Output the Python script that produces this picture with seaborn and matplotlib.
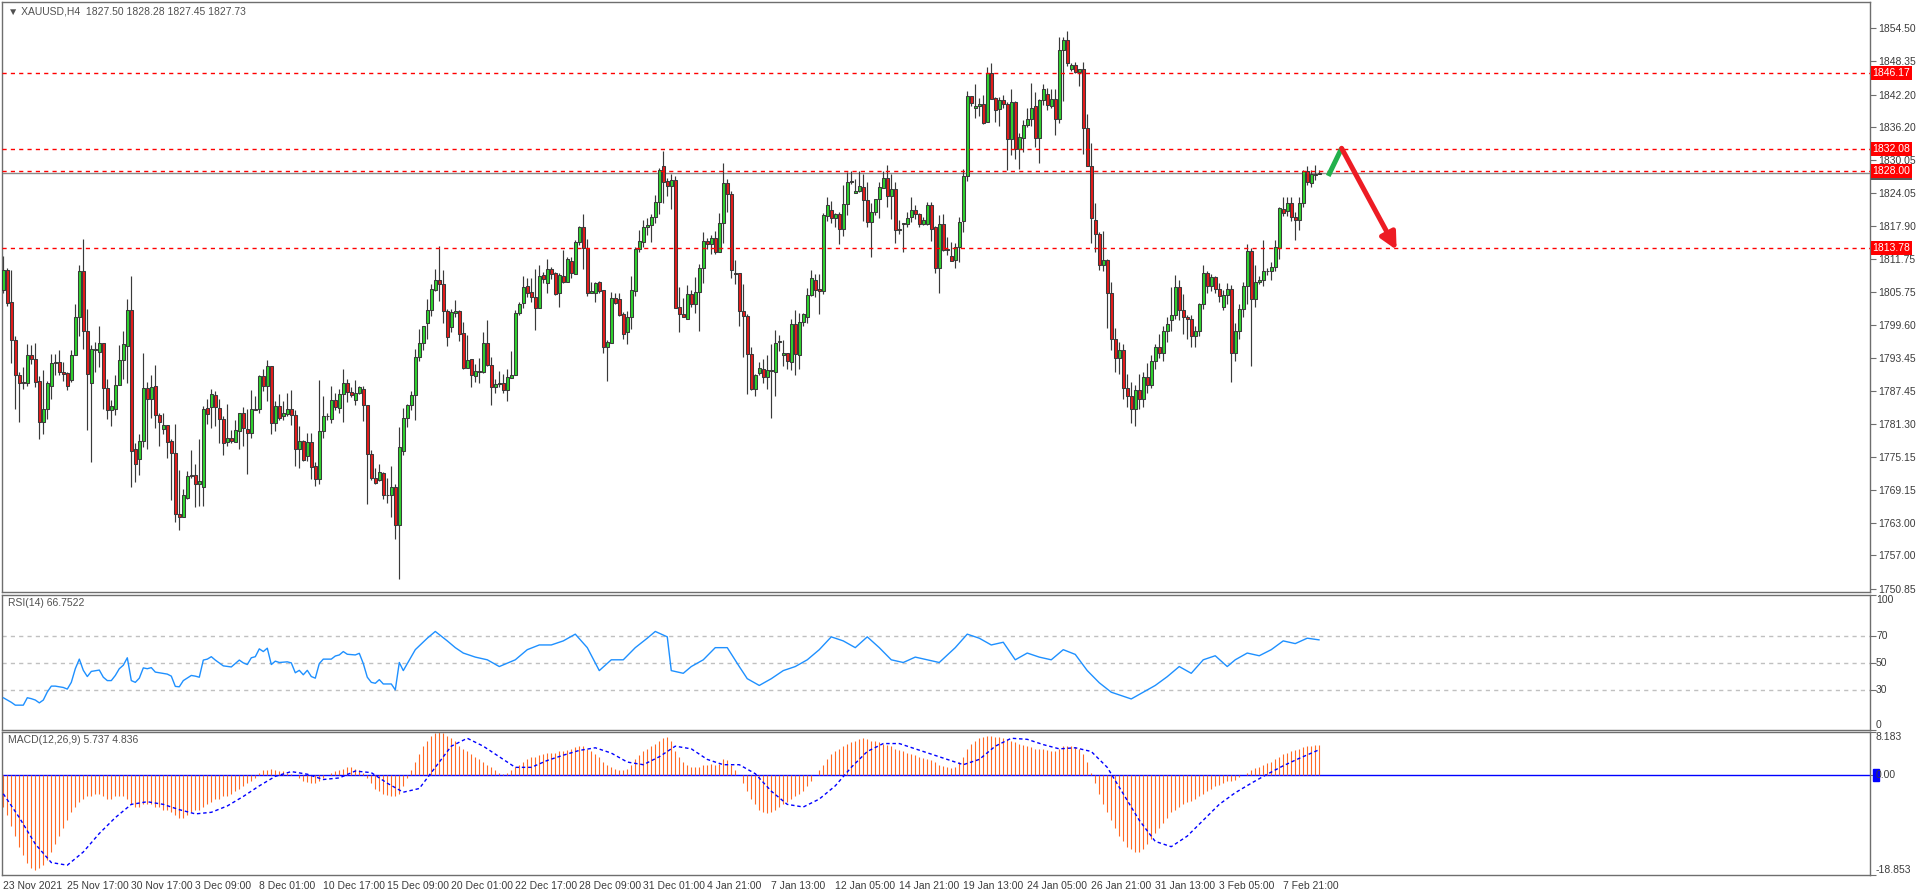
import numpy as np
import matplotlib
matplotlib.use("Agg")
import matplotlib.pyplot as plt
import seaborn as sns
from matplotlib.transforms import blended_transform_factory
from matplotlib.patches import Rectangle

sns.set_style("white")
plt.rcParams['font.family'] = ['Liberation Sans', 'DejaVu Sans']

# ---------------- data (XAUUSD H4) ----------------
opens = [
    1806.1, 1809.8, 1803.8, 1796.8, 1790.3, 1789.0, 1788.9, 1794.0, 1793.3, 1789.2,
    1781.6, 1784.0, 1788.3, 1792.5, 1792.7, 1791.0, 1790.7, 1789.4, 1794.0, 1801.0,
    1809.6, 1798.4, 1788.9, 1794.9, 1794.7, 1796.2, 1787.9, 1783.8, 1784.0, 1788.6,
    1793.1, 1795.8, 1802.3, 1776.6, 1774.9, 1778.1, 1787.9, 1786.0, 1788.3, 1782.9,
    1780.3, 1781.1, 1778.1, 1775.9, 1764.7, 1764.2, 1767.6, 1771.8, 1771.8, 1770.3,
    1769.6, 1784.2, 1784.4, 1786.6, 1784.2, 1782.2, 1777.9, 1778.7, 1777.9, 1780.0,
    1783.3, 1780.3, 1779.6, 1784.0, 1784.0, 1790.2, 1788.4, 1792.0, 1781.4, 1784.6,
    1782.7, 1783.2, 1784.0, 1782.9, 1776.6, 1778.1, 1775.3, 1777.9, 1773.5, 1771.1,
    1780.0, 1782.7, 1782.2, 1785.7, 1784.2, 1786.8, 1788.8, 1787.3, 1785.7, 1787.0,
    1787.8, 1784.8, 1775.7, 1771.3, 1771.0, 1772.2, 1768.2, 1768.1, 1769.7, 1762.6,
    1776.4, 1782.4, 1784.8, 1786.6, 1793.7, 1796.2, 1799.9, 1802.3, 1806.0, 1807.9,
    1807.1, 1802.1, 1799.3, 1801.9, 1802.2, 1798.1, 1791.6, 1793.3, 1790.1, 1791.1,
    1790.9, 1796.2, 1792.2, 1788.2, 1788.7, 1788.8, 1787.5, 1789.8, 1790.3, 1801.8,
    1803.7, 1806.8, 1805.7, 1804.7, 1802.8, 1808.9, 1807.4, 1809.9, 1809.2, 1805.5,
    1808.7, 1807.6, 1811.4, 1809.1, 1814.9, 1817.8, 1813.8, 1805.6, 1805.6, 1807.5,
    1806.1, 1795.6, 1796.2, 1804.5, 1804.4, 1801.6, 1798.3, 1801.0, 1805.8, 1813.6,
    1815.0, 1817.8, 1818.0, 1819.5, 1822.3, 1828.9, 1826.2, 1825.2, 1826.4, 1802.9,
    1801.6, 1800.8, 1805.3, 1803.4, 1805.7, 1810.1, 1815.1, 1814.5, 1815.7, 1813.0,
    1818.4, 1825.8, 1823.8, 1809.2, 1809.2, 1802.1, 1801.3, 1794.2, 1787.7, 1790.7,
    1791.4, 1789.9, 1791.3, 1790.9, 1796.4, 1794.0, 1794.4, 1792.8, 1799.7, 1794.0,
    1800.1, 1801.0, 1805.1, 1808.0, 1806.3, 1805.8, 1819.8, 1820.8, 1819.3, 1820.1,
    1817.3, 1821.9, 1826.0, 1824.0, 1824.3, 1825.1, 1822.7, 1818.6, 1820.4, 1822.8,
    1825.0, 1826.7, 1823.5, 1824.7, 1817.1, 1818.3, 1818.2, 1819.5, 1820.8, 1820.1,
    1818.2, 1818.3, 1821.7, 1817.7, 1810.1, 1818.2, 1813.6, 1812.4, 1811.6, 1814.1,
    1818.8, 1827.1, 1841.9, 1839.7, 1840.0, 1840.4, 1837.2, 1846.2, 1841.5, 1839.5,
    1841.2, 1840.4, 1833.9, 1840.8, 1832.1, 1834.1, 1836.5, 1837.6, 1840.0, 1834.1,
    1841.1, 1842.3, 1840.1, 1841.3, 1837.6, 1850.4, 1852.3, 1847.0, 1847.6, 1846.4,
    1846.9, 1836.1, 1829.0, 1819.0, 1816.4, 1810.6, 1811.6, 1805.6, 1797.0, 1793.5,
    1795.0, 1788.0, 1786.5, 1784.0, 1787.5, 1786.0, 1790.0, 1788.5, 1793.0, 1795.5,
    1794.5, 1798.5, 1800.5, 1801.5, 1806.6, 1802.3, 1801.1, 1800.8, 1797.5, 1798.5,
    1803.5, 1809.2, 1806.8, 1808.4, 1806.3, 1803.0, 1805.2, 1806.3, 1794.5, 1798.5,
    1802.5, 1806.9, 1813.3, 1804.4, 1807.6, 1808.0, 1809.5, 1809.5, 1810.3, 1813.9,
    1821.0, 1820.7, 1822.1, 1819.6, 1819.0, 1822.1, 1828.1, 1825.8, 1827.4, 1827.50,
]
highs = [
    1812.4, 1810.1, 1809.8, 1797.6, 1791.0, 1791.8, 1796.1, 1795.9, 1796.2, 1790.2,
    1791.3, 1789.3, 1794.2, 1794.2, 1794.9, 1792.8, 1790.9, 1794.9, 1803.5, 1810.7,
    1815.5, 1802.6, 1795.9, 1796.5, 1799.4, 1796.3, 1789.6, 1785.8, 1790.3, 1795.9,
    1798.5, 1804.4, 1808.7, 1777.7, 1779.4, 1794.4, 1789.1, 1790.3, 1792.2, 1783.3,
    1783.3, 1781.1, 1778.5, 1781.3, 1772.8, 1769.3, 1772.6, 1776.5, 1773.9, 1778.5,
    1784.6, 1786.0, 1787.8, 1787.4, 1786.0, 1782.8, 1785.0, 1780.2, 1782.0, 1783.3,
    1784.5, 1784.0, 1787.6, 1786.5, 1790.4, 1791.5, 1793.1, 1792.0, 1785.6, 1786.9,
    1785.6, 1787.0, 1787.6, 1783.8, 1780.9, 1778.4, 1779.6, 1779.6, 1774.3, 1789.4,
    1786.5, 1783.3, 1788.3, 1787.0, 1787.8, 1791.5, 1789.7, 1788.1, 1789.4, 1788.3,
    1788.3, 1784.8, 1776.5, 1773.1, 1773.9, 1772.4, 1771.4, 1773.5, 1770.2, 1780.8,
    1784.3, 1785.0, 1787.4, 1795.2, 1798.9, 1799.4, 1804.4, 1807.2, 1809.9, 1814.2,
    1809.8, 1802.5, 1802.6, 1804.2, 1802.4, 1800.2, 1797.8, 1793.3, 1792.4, 1793.5,
    1798.3, 1800.5, 1793.6, 1789.6, 1791.1, 1790.6, 1791.4, 1794.8, 1802.4, 1803.9,
    1808.6, 1808.2, 1808.2, 1809.9, 1810.6, 1809.4, 1811.8, 1810.3, 1809.4, 1809.2,
    1813.5, 1812.2, 1812.2, 1815.3, 1817.9, 1820.1, 1815.5, 1807.6, 1807.5, 1807.7,
    1806.1, 1796.8, 1805.7, 1805.6, 1805.6, 1802.0, 1802.2, 1808.7, 1814.1, 1817.2,
    1819.0, 1819.3, 1820.1, 1823.6, 1828.6, 1831.8, 1826.7, 1827.5, 1827.2, 1806.7,
    1804.5, 1807.0, 1806.1, 1808.5, 1810.9, 1816.8, 1815.6, 1816.2, 1816.9, 1820.3,
    1829.6, 1826.5, 1824.3, 1811.6, 1809.2, 1807.2, 1801.6, 1795.5, 1790.6, 1792.7,
    1793.3, 1794.1, 1796.1, 1798.6, 1797.8, 1796.8, 1794.5, 1800.7, 1802.3, 1801.8,
    1801.9, 1806.5, 1809.8, 1809.0, 1809.1, 1820.3, 1823.2, 1822.5, 1820.3, 1820.5,
    1825.5, 1827.9, 1828.0, 1826.5, 1828.1, 1827.6, 1826.0, 1822.2, 1822.9, 1826.0,
    1828.1, 1829.2, 1827.6, 1826.0, 1819.0, 1818.4, 1820.4, 1823.2, 1821.8, 1820.3,
    1819.5, 1822.4, 1822.4, 1817.9, 1819.9, 1820.1, 1815.8, 1815.0, 1814.8, 1819.6,
    1828.5, 1842.9, 1842.0, 1844.2, 1841.5, 1842.1, 1847.2, 1848.0, 1841.8, 1841.7,
    1842.1, 1840.8, 1843.2, 1841.0, 1835.0, 1837.5, 1839.7, 1844.4, 1842.7, 1841.4,
    1844.2, 1843.4, 1843.2, 1843.2, 1852.8, 1852.8, 1853.9, 1848.0, 1848.2, 1846.9,
    1848.2, 1838.6, 1833.3, 1822.2, 1816.8, 1817.0, 1811.8, 1807.6, 1799.0, 1796.5,
    1796.0, 1790.5, 1789.0, 1788.5, 1790.5, 1791.0, 1792.5, 1794.0, 1796.0, 1798.0,
    1799.5, 1801.0, 1806.7, 1808.9, 1807.9, 1805.3, 1801.5, 1801.5, 1799.5, 1803.6,
    1810.7, 1809.5, 1809.0, 1808.6, 1807.3, 1806.1, 1807.3, 1807.0, 1800.0, 1803.5,
    1807.5, 1814.6, 1813.8, 1810.7, 1808.7, 1815.3, 1810.2, 1811.3, 1815.3, 1821.4,
    1823.3, 1823.3, 1823.3, 1820.5, 1823.3, 1828.3, 1828.9, 1828.2, 1829.2, 1828.28,
]
lows = [
    1805.5, 1803.2, 1792.6, 1784.1, 1781.7, 1787.7, 1788.4, 1792.3, 1788.2, 1778.5,
    1779.4, 1782.3, 1785.9, 1790.4, 1790.3, 1789.3, 1787.6, 1789.1, 1794.0, 1797.6,
    1795.2, 1780.2, 1774.2, 1791.0, 1791.8, 1784.1, 1782.3, 1781.0, 1782.9, 1788.6,
    1789.7, 1788.9, 1769.7, 1770.6, 1771.9, 1777.1, 1776.6, 1782.5, 1780.6, 1777.2,
    1779.4, 1775.1, 1767.3, 1763.2, 1761.7, 1764.2, 1767.4, 1771.4, 1766.0, 1766.2,
    1766.2, 1781.3, 1780.5, 1780.9, 1777.7, 1775.6, 1777.3, 1777.7, 1777.9, 1776.7,
    1777.2, 1772.1, 1778.8, 1783.8, 1783.4, 1787.4, 1785.6, 1779.5, 1780.1, 1782.0,
    1782.0, 1782.8, 1781.2, 1773.5, 1773.1, 1774.5, 1774.5, 1771.2, 1769.9, 1770.3,
    1778.8, 1782.0, 1781.4, 1783.9, 1783.3, 1781.7, 1785.3, 1786.2, 1784.8, 1786.9,
    1781.9, 1766.5, 1771.0, 1770.2, 1770.8, 1767.4, 1766.7, 1764.2, 1760.1, 1752.7,
    1775.5, 1780.8, 1783.9, 1782.0, 1793.0, 1794.9, 1797.1, 1801.3, 1805.8, 1804.1,
    1799.9, 1795.7, 1798.3, 1801.0, 1796.7, 1791.5, 1791.6, 1788.2, 1789.1, 1788.8,
    1790.8, 1792.0, 1784.9, 1787.1, 1788.2, 1787.0, 1785.6, 1789.8, 1790.3, 1801.5,
    1802.8, 1804.7, 1803.9, 1798.7, 1802.8, 1807.3, 1805.6, 1808.1, 1805.1, 1802.9,
    1807.3, 1807.6, 1808.3, 1809.0, 1814.4, 1810.0, 1805.0, 1805.5, 1803.9, 1805.6,
    1794.4, 1789.3, 1796.2, 1803.4, 1801.3, 1797.0, 1796.0, 1798.8, 1804.9, 1813.0,
    1814.1, 1816.2, 1815.0, 1818.5, 1820.1, 1822.2, 1823.5, 1821.0, 1802.7, 1798.3,
    1801.0, 1800.7, 1803.0, 1801.9, 1798.4, 1807.4, 1813.6, 1812.7, 1812.7, 1813.0,
    1814.8, 1820.4, 1808.2, 1807.1, 1799.5, 1793.6, 1786.8, 1787.5, 1786.5, 1790.3,
    1788.8, 1787.7, 1782.5, 1786.4, 1794.8, 1792.1, 1791.4, 1791.2, 1790.3, 1791.4,
    1799.5, 1799.9, 1804.9, 1804.7, 1801.7, 1805.3, 1818.9, 1818.5, 1817.7, 1814.6,
    1816.1, 1819.9, 1825.6, 1824.0, 1824.2, 1818.9, 1817.8, 1812.2, 1820.0, 1819.3,
    1824.9, 1821.5, 1819.1, 1814.7, 1816.4, 1813.1, 1817.8, 1818.7, 1819.1, 1817.7,
    1818.0, 1818.1, 1815.2, 1809.2, 1805.6, 1813.3, 1812.6, 1811.5, 1810.2, 1811.2,
    1816.7, 1826.3, 1840.0, 1837.9, 1838.3, 1836.7, 1837.2, 1841.4, 1837.2, 1836.3,
    1839.8, 1828.3, 1831.0, 1830.2, 1828.5, 1831.5, 1836.2, 1836.3, 1832.5, 1829.6,
    1840.2, 1839.4, 1839.8, 1834.8, 1837.0, 1841.0, 1847.4, 1846.6, 1846.1, 1843.7,
    1831.2, 1828.9, 1814.8, 1813.0, 1809.8, 1809.5, 1799.0, 1795.0, 1791.0, 1790.5,
    1786.0, 1784.5, 1781.5, 1781.0, 1784.0, 1784.5, 1787.0, 1788.0, 1791.5, 1793.5,
    1793.0, 1796.5, 1798.5, 1800.8, 1800.5, 1798.0, 1797.0, 1795.5, 1795.5, 1797.5,
    1802.5, 1805.5, 1805.8, 1805.5, 1803.8, 1802.3, 1803.5, 1789.0, 1793.0, 1797.0,
    1801.0, 1803.5, 1792.0, 1803.0, 1807.2, 1806.8, 1808.8, 1808.0, 1809.5, 1811.8,
    1819.8, 1819.7, 1818.8, 1815.4, 1817.2, 1821.5, 1825.5, 1825.1, 1826.4, 1827.45,
]
closes = [
    1809.8, 1803.7, 1796.8, 1790.3, 1788.9, 1788.9, 1794.0, 1793.4, 1789.1, 1781.7,
    1784.0, 1788.8, 1792.5, 1792.7, 1791.0, 1790.6, 1788.3, 1794.0, 1801.0, 1809.6,
    1798.4, 1790.5, 1795.1, 1795.1, 1796.2, 1787.9, 1783.8, 1784.6, 1788.5, 1793.1,
    1796.0, 1802.3, 1776.4, 1774.0, 1778.1, 1787.9, 1786.0, 1788.1, 1782.9, 1781.7,
    1781.1, 1778.0, 1776.0, 1764.6, 1764.2, 1768.1, 1771.6, 1771.6, 1770.2, 1770.8,
    1784.0, 1783.2, 1786.8, 1784.4, 1782.2, 1777.7, 1778.7, 1778.1, 1780.2, 1783.3,
    1780.5, 1779.6, 1784.0, 1783.9, 1790.2, 1788.4, 1792.0, 1781.4, 1784.6, 1782.5,
    1783.3, 1784.0, 1782.9, 1776.6, 1778.1, 1774.7, 1777.9, 1773.4, 1771.1, 1780.1,
    1782.7, 1782.8, 1785.7, 1784.4, 1786.8, 1788.8, 1787.3, 1786.7, 1787.0, 1788.1,
    1784.8, 1775.7, 1771.3, 1770.4, 1772.4, 1768.1, 1768.1, 1769.7, 1762.6, 1777.0,
    1782.4, 1784.8, 1786.6, 1793.6, 1796.2, 1799.4, 1802.4, 1806.2, 1807.9, 1807.1,
    1802.1, 1797.3, 1802.0, 1802.2, 1798.0, 1791.7, 1793.1, 1790.3, 1791.1, 1790.9,
    1796.2, 1792.2, 1788.2, 1788.7, 1788.8, 1787.5, 1789.9, 1790.3, 1801.8, 1803.5,
    1806.6, 1805.6, 1804.7, 1802.8, 1808.7, 1808.1, 1809.9, 1809.1, 1805.3, 1808.8,
    1807.6, 1811.8, 1809.2, 1814.9, 1817.8, 1813.8, 1805.6, 1805.8, 1807.3, 1805.8,
    1795.6, 1796.4, 1804.5, 1803.7, 1801.5, 1798.0, 1801.0, 1806.0, 1813.7, 1815.1,
    1817.8, 1818.0, 1819.5, 1822.3, 1828.3, 1826.1, 1825.2, 1826.4, 1802.8, 1801.6,
    1801.0, 1805.3, 1803.4, 1805.7, 1810.1, 1815.1, 1814.5, 1815.7, 1813.0, 1818.4,
    1825.8, 1823.8, 1809.8, 1809.0, 1802.1, 1801.2, 1794.2, 1787.7, 1790.3, 1791.6,
    1789.9, 1791.3, 1791.1, 1796.2, 1796.7, 1794.4, 1793.0, 1799.7, 1794.2, 1800.1,
    1801.6, 1805.1, 1808.2, 1806.0, 1805.8, 1819.9, 1821.7, 1819.3, 1820.1, 1817.3,
    1821.9, 1826.0, 1826.2, 1824.4, 1825.2, 1822.7, 1818.6, 1820.4, 1822.8, 1825.1,
    1826.7, 1823.5, 1824.7, 1817.1, 1817.3, 1818.4, 1819.3, 1820.8, 1820.1, 1818.2,
    1819.0, 1821.7, 1817.4, 1810.1, 1818.2, 1813.4, 1813.4, 1811.5, 1814.1, 1818.7,
    1827.1, 1841.9, 1840.6, 1840.0, 1840.4, 1837.0, 1846.2, 1841.4, 1839.4, 1841.2,
    1840.4, 1833.9, 1840.8, 1832.1, 1834.3, 1836.5, 1837.7, 1839.8, 1834.1, 1841.1,
    1843.2, 1840.2, 1841.3, 1837.7, 1850.4, 1852.3, 1848.0, 1847.6, 1846.4, 1846.9,
    1836.1, 1829.0, 1819.3, 1816.4, 1810.6, 1811.6, 1805.6, 1797.0, 1793.5, 1795.0,
    1788.0, 1786.5, 1784.0, 1787.5, 1786.0, 1790.0, 1788.5, 1793.0, 1795.5, 1794.5,
    1798.5, 1799.8, 1801.5, 1806.6, 1802.3, 1801.1, 1800.8, 1797.5, 1798.5, 1803.5,
    1809.2, 1806.8, 1808.4, 1806.3, 1804.9, 1805.2, 1806.3, 1794.5, 1798.5, 1802.5,
    1806.9, 1813.3, 1804.4, 1807.6, 1808.0, 1809.5, 1809.6, 1810.4, 1814.1, 1821.2,
    1820.3, 1822.1, 1819.5, 1819.0, 1822.1, 1828.1, 1826.1, 1827.5, 1827.6, 1827.73,
]

# RSI(14) (bar index, value)
rsi_bar = [0, 1, 2, 3, 5, 6, 7, 8, 9, 10, 11, 12, 13, 15, 16, 17, 18, 19, 20, 21,
           22, 24, 25, 26, 27, 28, 29, 30, 31, 32, 33, 34, 35, 36, 37, 38, 39, 41, 42, 43,
           44, 45, 47, 48, 49, 50, 51, 52, 53, 55, 57, 58, 59, 60, 61, 62, 63, 64, 65, 66,
           67, 68, 69, 71, 72, 73, 74, 75, 76, 77, 78, 79, 80, 82, 83, 84, 85, 86, 88, 89,
           90, 91, 92, 93, 94, 95, 97, 98, 99, 100, 103, 106, 108, 111, 113, 115, 118, 121, 124, 128,
           131, 134, 137, 140, 143, 146, 149, 152, 155, 158, 161, 163, 166, 167, 170, 172, 175, 178, 181, 184,
           186, 189, 192, 195, 198, 201, 204, 207, 210, 213, 216, 219, 222, 225, 228, 231, 234, 238, 241, 244,
           247, 250, 253, 256, 259, 262, 265, 268, 271, 274, 277, 280, 282, 285, 288, 291, 294, 297, 300, 303,
           306, 308, 311, 314, 317, 320, 323, 326, 329]
rsi_val = [23.9, 22.2, 20.5, 18.4, 18.4, 23.9, 23.2, 22.2, 20.1, 22.2, 28.2, 32.5, 32.5, 31.5, 30.3, 35.3, 45.4, 52.5, 44.2, 39.6,
           43.4, 44.4, 39.1, 36.6, 36.6, 40.4, 45.4, 48.0, 53.5, 36.6, 35.3, 38.4, 46.0, 45.4, 46.2, 42.9, 42.4, 41.4, 39.9, 32.3,
           32.0, 36.6, 40.4, 39.9, 39.1, 51.8, 52.5, 54.3, 51.8, 47.5, 46.7, 49.2, 51.8, 49.7, 48.5, 53.5, 54.3, 60.1, 58.1, 60.6,
           48.5, 51.0, 50.0, 50.5, 49.7, 42.4, 44.2, 40.9, 44.2, 39.6, 38.4, 49.2, 52.5, 52.5, 54.8, 55.6, 58.1, 56.1, 55.6, 56.8,
           49.2, 39.1, 35.3, 34.6, 37.3, 34.1, 34.1, 29.7, 50.0, 44.0, 59.5, 68.0, 73.0, 66.0, 61.0, 57.0, 54.0, 52.0, 47.0, 52.0,
           59.5, 63.0, 63.0, 66.0, 71.0, 61.0, 44.0, 52.0, 52.0, 61.0, 68.0, 73.0, 69.0, 44.0, 42.0, 47.0, 52.0, 61.0, 61.0, 47.0,
           38.0, 33.0, 38.0, 44.0, 47.0, 52.0, 59.5, 69.0, 66.0, 61.0, 69.0, 61.0, 52.0, 50.0, 54.0, 52.0, 50.0, 61.0, 71.0, 68.0,
           63.0, 65.0, 52.0, 57.0, 54.0, 52.0, 59.5, 56.0, 44.0, 35.0, 28.0, 25.0, 23.0, 28.0, 33.0, 39.5, 47.0, 42.0, 52.0, 55.0,
           47.0, 52.0, 57.0, 55.0, 59.5, 66.0, 64.0, 68.0, 66.75]

# MACD(12,26,9) main line, one histogram bar per candle
macd_val = [
    -6.0, -7.5, -9.5, -11.5, -13.5, -15.0, -16.5, -17.5, -18.0, -17.5,
    -17.0, -16.0, -14.5, -13.0, -11.5, -10.0, -8.5, -7.0, -6.0, -5.0,
    -4.5, -4.0, -4.0, -3.5, -3.5, -4.0, -4.5, -4.5, -4.0, -4.0,
    -4.0, -4.5, -5.5, -6.0, -6.0, -5.5, -5.5, -5.5, -6.0, -6.0,
    -6.5, -6.5, -7.0, -7.5, -8.0, -8.0, -7.5, -7.0, -6.5, -6.5,
    -6.0, -5.5, -5.0, -4.5, -4.5, -4.0, -4.0, -3.5, -3.0, -2.5,
    -2.0, -1.5, -1.0, -0.5, 0.5, 1.0, 1.0, 1.2, 1.0, 0.8,
    0.8, 0.5, 0.3, 0.0, -0.5, -1.0, -1.3, -1.5, -1.5, -1.0,
    -0.5, 0.0, 0.5, 0.8, 1.0, 1.2, 1.5, 1.5, 1.2, 1.0,
    0.5, -0.5, -1.5, -2.5, -3.0, -3.5, -3.8, -4.0, -4.0, -3.5,
    -2.0, -0.5, 1.0, 2.5, 4.0, 5.5, 6.5, 7.5, 8.0, 8.2,
    8.0, 7.5, 7.0, 6.5, 5.5, 5.0, 4.5, 4.0, 3.5, 3.0,
    2.5, 2.0, 1.5, 1.0, 0.5, 0.3, 0.5, 1.0, 1.5, 2.0,
    2.5, 3.0, 3.5, 3.5, 3.8, 4.0, 4.2, 4.2, 4.3, 4.5,
    4.5, 4.8, 5.0, 5.3, 5.5, 5.5, 5.0, 4.5, 4.0, 3.5,
    2.5, 2.0, 1.5, 1.2, 1.0, 1.0, 1.2, 2.0, 3.0, 3.8,
    4.5, 5.0, 5.5, 6.0, 6.5, 7.0, 7.3, 6.5, 4.5, 3.5,
    2.5, 2.0, 1.5, 1.5, 1.5, 2.0, 2.0, 2.2, 2.0, 2.2,
    3.0, 2.8, 2.0, 1.0, 0.0, -1.5, -3.0, -4.5, -5.5, -6.5,
    -7.0, -7.2, -7.0, -6.5, -6.0, -5.5, -5.0, -4.5, -4.0, -3.5,
    -3.0, -2.0, -1.0, 0.0, 1.0, 2.0, 3.0, 4.0, 4.5, 5.0,
    5.5, 6.0, 6.3, 6.5, 6.8, 7.0, 6.8, 6.5, 6.5, 6.3,
    6.0, 5.8, 5.5, 5.0, 4.8, 4.5, 4.2, 4.0, 3.8, 3.5,
    3.2, 3.0, 2.8, 2.5, 2.0, 1.8, 1.5, 1.3, 1.5, 2.5,
    3.5, 5.0, 6.0, 6.5, 7.0, 7.3, 7.5, 7.5, 7.3, 7.2,
    7.0, 6.8, 6.5, 6.2, 6.0, 5.8, 5.5, 5.3, 5.0, 5.0,
    5.0, 4.8, 4.5, 4.5, 5.0, 5.5, 5.5, 5.5, 5.3, 5.0,
    4.0, 2.5, 0.5, -1.5, -3.5, -5.5, -7.0, -8.5, -10.0, -11.5,
    -12.5, -13.5, -14.0, -14.5, -14.5, -14.0, -13.0, -12.0, -11.0, -10.0,
    -9.0, -8.0, -7.0, -6.5, -6.0, -5.5, -5.0, -4.8, -4.5, -4.0,
    -3.5, -3.0, -2.5, -2.0, -1.8, -1.5, -1.0, -1.0, -0.8, -0.3,
    0.0, 0.5, 1.0, 1.3, 1.5, 2.0, 2.3, 2.5, 3.0, 3.5,
    4.0, 4.3, 4.5, 4.8, 5.0, 5.3, 5.5, 5.6, 5.7, 5.737,
]
# dashed signal line (bar index, value)
signal_bar = [0, 4, 8, 12, 16, 20, 24, 28, 32, 36, 40, 44, 48, 52, 56, 60, 64, 68, 72, 76,
              80, 84, 88, 92, 96, 100, 104, 108, 112, 116, 120, 124, 128, 132, 136, 140, 144, 148, 152, 156,
              160, 164, 168, 172, 176, 180, 184, 188, 192, 196, 200, 204, 208, 212, 216, 220, 224, 228, 232, 236,
              240, 244, 248, 252, 256, 260, 264, 268, 272, 276, 280, 284, 288, 292, 296, 300, 304, 308, 312, 316,
              320, 324, 329]
signal_val = [-3.5, -8, -13, -16.5, -17, -14.5, -11, -8, -5.5, -5, -5.5, -6.5, -7.3, -7, -5.8, -4, -2, -0.2, 0.7, 0.2,
              -0.8, -0.5, 0.8, 0.5, -1.5, -3.2, -2.5, 1.5, 5.5, 7, 5.5, 3.5, 1.5, 1.5, 2.8, 3.8, 4.7, 5.2, 4.2, 2.5,
              2, 3.5, 5.5, 5, 3, 2, 2, 0.3, -3, -5.5, -6, -4.5, -2, 1.5, 4.5, 6, 6, 5, 4, 3,
              2, 3, 5.5, 7, 6.8, 5.8, 5, 5.2, 4.5, 1.5, -3.5, -8.5, -12.5, -13.5, -11.5, -8.5, -5.5, -3.3, -1.5, 0.2,
              1.8, 3.2, 4.836]

price_ticks = [1854.50, 1848.35, 1842.20, 1836.20, 1830.05, 1824.05, 1817.90, 1811.75, 1805.75,
               1799.60, 1793.45, 1787.45, 1781.30, 1775.15, 1769.15, 1763.00, 1757.00, 1750.85]
level_lines = [1846.17, 1832.08, 1828.00, 1813.78]
bid_price = 1827.73
date_labels = ["23 Nov 2021", "25 Nov 17:00", "30 Nov 17:00", "3 Dec 09:00", "8 Dec 01:00",
               "10 Dec 17:00", "15 Dec 09:00", "20 Dec 01:00", "22 Dec 17:00", "28 Dec 09:00",
               "31 Dec 01:00", "4 Jan 21:00", "7 Jan 13:00", "12 Jan 05:00", "14 Jan 21:00",
               "19 Jan 13:00", "24 Jan 05:00", "26 Jan 21:00", "31 Jan 13:00", "3 Feb 05:00",
               "7 Feb 21:00"]

# forecast drawing (bar index, price)
up_leg = [(331.25, 1827.15), (334.6, 1832.26)]
down_leg = [(334.6, 1832.26), (348.35, 1813.47)]

# ---------------- figure ----------------
W, H = 1916, 896
fig = plt.figure(figsize=(W / 100, H / 100), dpi=100)
fig.patch.set_facecolor("white")


def box(top, bottom, left=2, right=1870):
    return [left / W, 1 - bottom / H, (right - left) / W, (bottom - top) / H]


ax = fig.add_axes(box(2, 592))
ax_rsi = fig.add_axes(box(595, 730))
ax_macd = fig.add_axes(box(732, 875))

frame = "#6e6e6e"
txt = "#3c3c3c"
for a in (ax, ax_rsi, ax_macd):
    a.set_facecolor("white")
    for s in a.spines.values():
        s.set_color(frame)
        s.set_linewidth(1.0)
    a.set_xlim(-0.33, 466.7)
    a.yaxis.tick_right()
    a.tick_params(axis="y", length=4, width=0.8, color=frame, labelsize=7.5,
                  labelcolor=txt, pad=2, direction="out")
    a.tick_params(axis="x", length=0, labelbottom=False)

# ---- candles ----
o = np.array(opens); h = np.array(highs); l = np.array(lows); c = np.array(closes)
x = np.arange(len(c))
bull = c >= o
lo_b = np.minimum(o, c)
hi_b = np.maximum(o, c)
ax.axhline(bid_price, color="#8a8a8a", lw=1.0, zorder=1)
ax.vlines(x, l, h, color="#3a3a3a", lw=0.85, zorder=2)
ax.bar(x, np.maximum(hi_b - lo_b, 0.12), bottom=lo_b, width=0.7,
       color=np.where(bull, "#2ed12e", "#e41b1b"), edgecolor="#3a3a3a",
       linewidth=0.75, zorder=3)
ax.set_ylim(1750.25, 1859.3)
ax.set_yticks(price_ticks)
ax.set_yticklabels([f"{v:.2f}" for v in price_ticks])

for v in level_lines:
    ax.axhline(v, color="#ff0000", lw=1.0, ls=(0, (3, 3)), zorder=4)

tr = blended_transform_factory(ax.transAxes, ax.transData)
ax.text(1.0013, bid_price, f"{bid_price:.2f}", transform=tr, ha="left", va="center",
        fontsize=7.5, color="white", clip_on=False, zorder=20,
        bbox=dict(boxstyle="square,pad=0.18", fc="#5a5a5a", ec="none"))
for v in level_lines:
    ax.text(1.0013, v, f"{v:.2f}", transform=tr, ha="left", va="center",
            fontsize=7.5, color="white", clip_on=False, zorder=21,
            bbox=dict(boxstyle="square,pad=0.18", fc="#ff0000", ec="none"))

# forecast legs
ax.plot([p[0] for p in up_leg], [p[1] for p in up_leg], color="#22b14c", lw=3.6,
        solid_capstyle="butt", zorder=6)
ax.annotate("", xy=down_leg[1], xytext=down_leg[0], zorder=6,
            arrowprops=dict(arrowstyle="-|>,head_length=0.7,head_width=0.35",
                            color="#ed1c24", lw=3.6, mutation_scale=14,
                            shrinkA=0, shrinkB=0))

ax.text(0.003, 0.993, "▼ XAUUSD,H4  1827.50 1828.28 1827.45 1827.73",
        transform=ax.transAxes, ha="left", va="top", fontsize=7.5, color="#505050")

# ---- RSI ----
for lvl in (30, 50, 70):
    ax_rsi.axhline(lvl, color="#c0c0c0", lw=1.0, ls=(0, (3, 3)), zorder=1)
sns.lineplot(x=rsi_bar, y=rsi_val, ax=ax_rsi, color="#1e90ff", linewidth=1.0, zorder=3)
ax_rsi.set_ylim(0, 100)
ax_rsi.set_yticks([0, 30, 50, 70, 100])
ax_rsi.set_yticklabels([])
tr_r = blended_transform_factory(ax_rsi.transAxes, ax_rsi.transData)
for v, va in ((100, "top"), (70, "center"), (50, "center"), (30, "center"), (0, "bottom")):
    ax_rsi.text(1.0032, v, str(v), transform=tr_r, ha="left", va=va, fontsize=7.5,
                color=txt, clip_on=False)
ax_rsi.text(0.003, 0.978, "RSI(14) 66.7522", transform=ax_rsi.transAxes,
            ha="left", va="top", fontsize=7.5, color="#505050")
ax_rsi.set_xlabel(""); ax_rsi.set_ylabel("")

# ---- MACD ----
ax_macd.axhline(0, color="#0000ff", lw=1.0, zorder=1)
ax_macd.vlines(np.arange(len(macd_val)), 0, macd_val, color="#ff6a24", lw=0.8, zorder=2)
sns.lineplot(x=signal_bar, y=signal_val, ax=ax_macd, color="#0000ff", linewidth=1.0,
             zorder=3, linestyle=(0, (2.5, 2)))
ax_macd.set_ylim(-18.853, 8.183)
ax_macd.set_yticks([-18.853, 0, 8.183])
ax_macd.set_yticklabels([])
tr_m = blended_transform_factory(ax_macd.transAxes, ax_macd.transData)
ax_macd.add_patch(Rectangle((1.0015, -1.15), 0.0034, 2.3, transform=tr_m,
                            color="#0000ff", clip_on=False, zorder=5))
for v, s, va in ((8.183, "8.183", "top"), (0, "0.00", "center"), (-18.853, "-18.853", "bottom")):
    ax_macd.text(1.0032, v, s, transform=tr_m, ha="left", va=va, fontsize=7.5,
                 color=txt, clip_on=False, zorder=6)
ax_macd.text(0.003, 0.979, "MACD(12,26,9) 5.737 4.836", transform=ax_macd.transAxes,
             ha="left", va="top", fontsize=7.5, color="#505050")
ax_macd.set_xlabel(""); ax_macd.set_ylabel("")

ax_macd.set_xticks(range(0, 16 * len(date_labels), 16))
ax_macd.set_xticklabels(date_labels)
ax_macd.tick_params(axis="x", length=3, width=0.8, color=frame, labelbottom=True,
                    labelsize=7.5, labelcolor=txt, pad=1)
for lbl in ax_macd.get_xticklabels():
    lbl.set_ha("left")
ax_macd.set_xlim(-0.33, 466.7)

fig.savefig("out.png", dpi=100, facecolor="white")
